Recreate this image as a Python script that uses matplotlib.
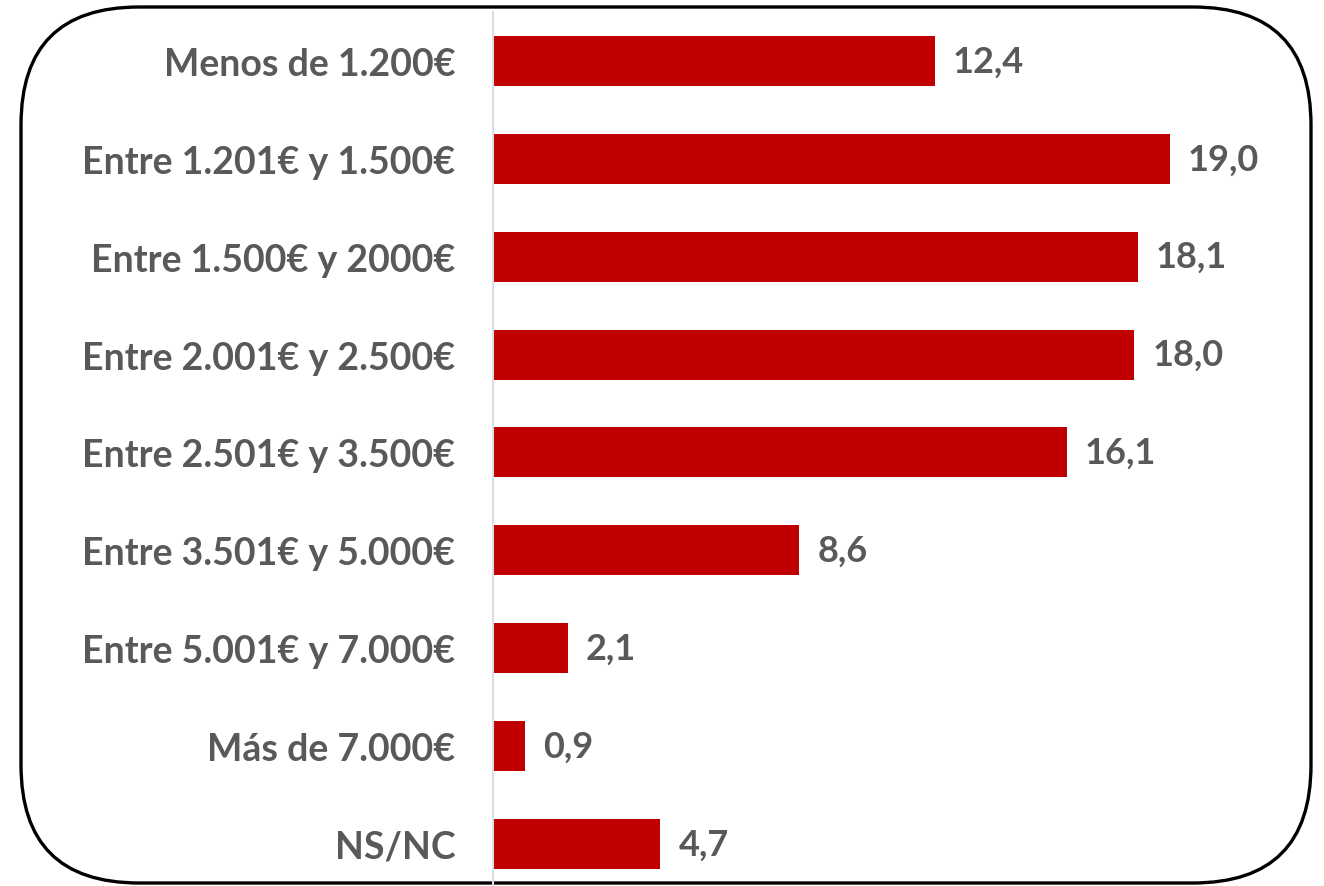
import matplotlib
matplotlib.use("Agg")
import matplotlib.pyplot as plt
from matplotlib.patches import FancyBboxPatch

categories = ["Menos de 1.200€", "Entre 1.201€ y 1.500€", "Entre 1.500€ y 2000€",
              "Entre 2.001€ y 2.500€", "Entre 2.501€ y 3.500€", "Entre 3.501€ y 5.000€",
              "Entre 5.001€ y 7.000€", "Más de 7.000€", "NS/NC"]
values = [12.4, 19.0, 18.1, 18.0, 16.1, 8.6, 2.1, 0.9, 4.7]
value_labels = ["12,4", "19,0", "18,1", "18,0", "16,1", "8,6", "2,1", "0,9", "4,7"]

W, H = 1324, 887
fig = plt.figure(figsize=(W / 100, H / 100), dpi=100)
fig.patch.set_facecolor("white")

# background frame
bg = fig.add_axes([0, 0, 1, 1])
bg.set_xlim(0, W)
bg.set_ylim(H, 0)
bg.axis("off")
bg.add_patch(FancyBboxPatch((21, 8), 1290, 876,
                            boxstyle="round,pad=0,rounding_size=118",
                            fill=False, edgecolor="black", linewidth=2.4))

left_px, right_px = 493, 1277
top_px, bot_px = 13, 887
ax = fig.add_axes([left_px / W, (H - bot_px) / H, (right_px - left_px) / W, (bot_px - top_px) / H])
ax.patch.set_alpha(0)

gray = "#595959"
font = "Lato"
y = list(range(len(categories)))
ax.barh(y, values, height=0.51, color="#C00000")
ax.set_xlim(0, 22)
ax.set_ylim(8.43, -0.5)
ax.set_yticks(y)
ax.set_yticklabels(categories, fontsize=27, fontweight="bold", color=gray, family=font)
ax.tick_params(axis="y", length=0, pad=27)
ax.set_xticks([])
for s in ["top", "right", "bottom"]:
    ax.spines[s].set_visible(False)
ax.spines["left"].set_color("#D9DDE6")
ax.spines["left"].set_linewidth(1.5)

for yi, v, lab in zip(y, values, value_labels):
    ax.annotate(lab, (v, yi), xytext=(18, 0), textcoords="offset pixels",
                ha="left", va="center", fontsize=26, fontweight="bold",
                color=gray, family=font)

fig.savefig("out.png", dpi=100)
